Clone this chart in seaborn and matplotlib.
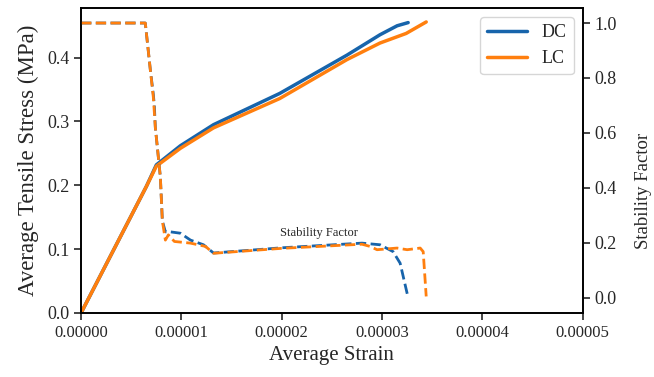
import matplotlib
matplotlib.use("Agg")
import matplotlib.pyplot as plt
import seaborn as sns
import pandas as pd

# Stress-strain data
dc_strain = [0.0, 6.5e-6, 7.5e-6, 9.9e-6, 1.32e-5, 1.98e-5, 2.65e-5, 2.98e-5, 3.15e-5, 3.26e-5]
dc_stress = [0.0, 0.198, 0.232, 0.262, 0.295, 0.344, 0.404, 0.436, 0.450, 0.455]
lc_strain = [0.0, 6.5e-6, 7.5e-6, 9.9e-6, 1.32e-5, 1.98e-5, 2.65e-5, 2.98e-5, 3.24e-5, 3.44e-5]
lc_stress = [0.0, 0.198, 0.230, 0.258, 0.290, 0.336, 0.397, 0.423, 0.438, 0.456]

# Stability factor data
dc_sf_strain = [0.0, 6.4e-6, 6.9e-6, 7.2e-6, 7.3e-6, 7.4e-6, 7.9e-6, 8.1e-6, 8.4e-6, 8.9e-6, 9.9e-6,
                1.09e-5, 1.22e-5, 1.32e-5, 2.0e-5, 2.8e-5, 2.98e-5, 3.11e-5, 3.18e-5, 3.26e-5]
dc_sf = [1.0, 1.0, 0.83, 0.74, 0.70, 0.62, 0.44, 0.28, 0.24, 0.24, 0.235,
         0.21, 0.193, 0.163, 0.182, 0.199, 0.193, 0.168, 0.126, 0.0]
lc_sf_strain = [0.0, 6.4e-6, 6.9e-6, 7.2e-6, 7.4e-6, 7.9e-6, 8.1e-6, 8.4e-6, 8.7e-6, 9.3e-6, 1.09e-5,
                1.24e-5, 1.32e-5, 2.0e-5, 2.8e-5, 2.88e-5, 2.95e-5, 3.15e-5, 3.25e-5, 3.38e-5, 3.41e-5, 3.44e-5]
lc_sf = [1.0, 1.0, 0.83, 0.73, 0.62, 0.44, 0.28, 0.21, 0.229, 0.205, 0.199,
         0.187, 0.162, 0.180, 0.195, 0.187, 0.175, 0.181, 0.175, 0.181, 0.168, 0.005]

blue = "#1764ab"
orange = "#ff7f0e"

sns.set_style("ticks")
plt.rcParams["font.family"] = ["Liberation Serif", "DejaVu Serif"]
plt.rcParams["mathtext.fontset"] = "stix"

fig = plt.figure(figsize=(6.54, 3.77), dpi=100)
ax = fig.add_axes([0.124, 0.170, 0.767, 0.809])

df_dc = pd.DataFrame({"x": dc_strain, "y": dc_stress})
df_lc = pd.DataFrame({"x": lc_strain, "y": lc_stress})
sns.lineplot(data=df_dc, x="x", y="y", ax=ax, color=blue, lw=2.5, label="DC", sort=False)
sns.lineplot(data=df_lc, x="x", y="y", ax=ax, color=orange, lw=2.5, label="LC", sort=False)

ax.set_xlim(0, 5e-5)
ax.set_ylim(0, 0.478)
ax.set_xticks([0, 1e-5, 2e-5, 3e-5, 4e-5, 5e-5])
ax.set_xticklabels(["0.00000", "0.00001", "0.00002", "0.00003", "0.00004", "0.00005"])
ax.set_yticks([0.0, 0.1, 0.2, 0.3, 0.4])
ax.set_xlabel("Average Strain", fontsize=15)
ax.set_ylabel("Average Tensile Stress (MPa)", fontsize=16.5, labelpad=6)
ax.tick_params(labelsize=12, width=1.2, length=5)
ax.tick_params(axis="y", labelsize=13)
for s in ax.spines.values():
    s.set_linewidth(1.2)
    s.set_color("black")

ax.text(2.37e-5, 0.125, "Stability Factor", fontsize=9, ha="center", va="center")

leg = ax.legend(loc="upper right", fontsize=13, frameon=True, fancybox=True,
                framealpha=0.8, edgecolor="#cccccc", handlelength=2.2)

ax2 = ax.twinx()
df_dcs = pd.DataFrame({"x": dc_sf_strain, "y": dc_sf})
df_lcs = pd.DataFrame({"x": lc_sf_strain, "y": lc_sf})
sns.lineplot(data=df_dcs, x="x", y="y", ax=ax2, color=blue, lw=2, ls="--", sort=False, legend=False)
sns.lineplot(data=df_lcs, x="x", y="y", ax=ax2, color=orange, lw=2, ls="--", sort=False, legend=False)
ax2.set_ylim(-0.055, 1.055)
ax2.set_yticks([0.0, 0.2, 0.4, 0.6, 0.8, 1.0])
ax2.set_ylabel("Stability Factor", fontsize=13.5)
ax2.yaxis.set_label_coords(1.104, 0.40)
ax2.tick_params(labelsize=13, width=1.2, length=5)
ax2.set_xlim(0, 5e-5)
for s in ax2.spines.values():
    s.set_linewidth(1.2)
    s.set_color("black")

fig.savefig("out.png", dpi=100)
